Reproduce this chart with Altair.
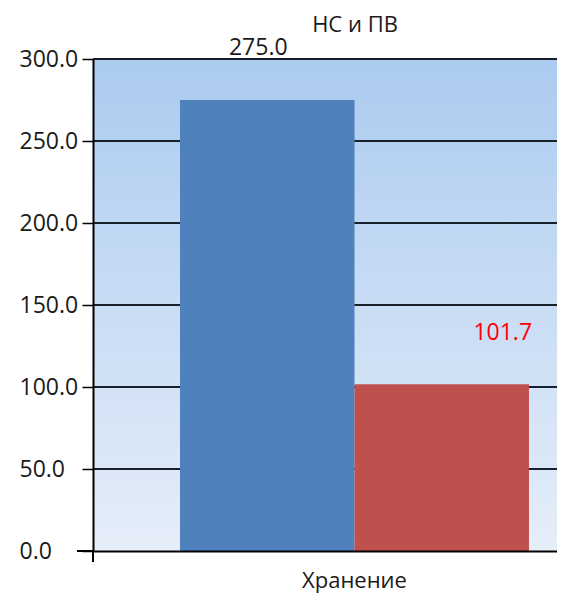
import altair as alt
import pandas as pd

# ---- data ----
title_text = "НС и ПВ"
categories = ["Хранение"]
series = ["Серия 1", "Серия 2"]
values = [275.0, 101.7]
y_ticks = [0, 50, 100, 150, 200, 250, 300]
grid_values = [50, 100, 150, 200, 250, 300]
bar_colors = ["#4f81bd", "#c0504d"]

W, H = 464, 492
FONT = "Open Sans"
TXT = "#1a1a1a"

bars_df = pd.DataFrame({
    "cat": [categories[0]] * len(series),
    "series": series,
    "value": values,
})
grid_df = pd.DataFrame({"value": grid_values})

x_enc = alt.X(
    "cat:N",
    scale=alt.Scale(paddingInner=0, paddingOuter=0.1648, align=0.7565),
    axis=alt.Axis(title=None, labelAngle=0, labelFontSize=22, labelPadding=19,
                  ticks=False, domainColor="black", domainWidth=2, zindex=1,
                  labelColor=TXT, labelFont=FONT),
)
xoff_enc = alt.XOffset("series:N", scale=alt.Scale(paddingInner=0, paddingOuter=0))
y_axis = alt.Axis(values=y_ticks, format=".1f", title=None, grid=False,
                  tickSize=11, tickColor="black", tickWidth=1.5,
                  domainColor="black", domainWidth=2, zindex=1,
                  labelAlign="left", labelPadding=63, labelFontSize=23,
                  labelBaseline="middle", labelColor=TXT, labelFont=FONT)
y_scale = alt.Scale(domain=[0, 300], nice=False)

bg = alt.Chart(alt.Data(values=[{}])).mark_rect(
    color=alt.LinearGradient(
        gradient="linear",
        stops=[alt.GradientStop(color="#abcbf0", offset=0),
               alt.GradientStop(color="#e6eef9", offset=1)],
        x1=0, x2=0, y1=0, y2=1,
    )
).encode(x=alt.value(0), x2=alt.value(W), y=alt.value(0), y2=alt.value(H))

grid = alt.Chart(grid_df).mark_rule(color="#17202b", strokeWidth=2).encode(
    y=alt.Y("value:Q", scale=y_scale, axis=y_axis)
)

bars = alt.Chart(bars_df).mark_bar().encode(
    x=x_enc,
    xOffset=xoff_enc,
    y=alt.Y("value:Q", scale=y_scale, axis=y_axis),
    color=alt.Color("series:N", scale=alt.Scale(domain=series, range=bar_colors), legend=None),
)

lbl1 = alt.Chart(bars_df).transform_filter(
    alt.datum.series == series[0]
).mark_text(fontSize=23, font=FONT, color=TXT, baseline="middle", dx=-9, dy=-52).encode(
    x=x_enc, xOffset=xoff_enc,
    y=alt.Y("value:Q", scale=y_scale, axis=y_axis),
    text=alt.Text("value:Q", format=".1f"),
)
lbl2 = alt.Chart(bars_df).transform_filter(
    alt.datum.series == series[1]
).mark_text(fontSize=23, font=FONT, color="#ff0000", baseline="middle", dx=61, dy=-51).encode(
    x=x_enc, xOffset=xoff_enc,
    y=alt.Y("value:Q", scale=y_scale, axis=y_axis),
    text=alt.Text("value:Q", format=".1f"),
)

title = alt.Chart(alt.Data(values=[{"t": title_text}])).mark_text(
    fontSize=22, font=FONT, color=TXT, baseline="middle", align="center"
).encode(x=alt.value(262), y=alt.value(-34), text="t:N")

ext_v = alt.Chart(alt.Data(values=[{}])).mark_rule(color="black", strokeWidth=2).encode(
    x=alt.value(0), y=alt.value(H), y2=alt.value(H + 11)
)
ext_h = alt.Chart(alt.Data(values=[{}])).mark_rule(color="black", strokeWidth=2).encode(
    x=alt.value(-16), x2=alt.value(0), y=alt.value(H)
)

chart = alt.layer(bg, grid, bars, lbl1, lbl2, title, ext_v, ext_h).properties(
    width=W, height=H,
    autosize=alt.AutoSizeParams(type="none"),
    padding={"left": 85, "top": 51, "right": 0, "bottom": 65},
).configure_view(stroke=None)

chart.save("out.html", embed_options={"renderer": "svg", "actions": False})
